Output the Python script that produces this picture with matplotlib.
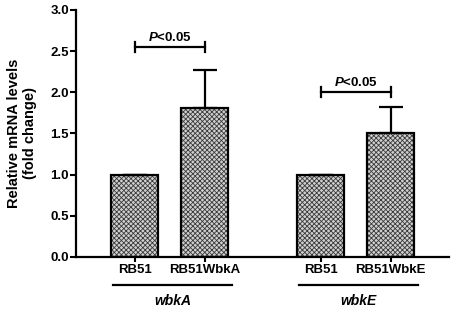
import numpy as np
import matplotlib
matplotlib.use('Agg')
import matplotlib.pyplot as plt

plt.rcParams['font.family'] = ['Liberation Sans', 'DejaVu Sans']
plt.rcParams['font.weight'] = 'bold'
plt.rcParams['hatch.linewidth'] = 0.6
plt.rcParams['mathtext.fontset'] = 'custom'
plt.rcParams['mathtext.it'] = 'Liberation Sans:italic:bold'
plt.rcParams['mathtext.rm'] = 'Liberation Sans:bold'

# data
labels = ['RB51', 'RB51WbkA', 'RB51', 'RB51WbkE']
groups = ['wbkA', 'wbkE']
values = [1.0, 1.81, 1.0, 1.51]
errors = [0.0, 0.46, 0.0, 0.31]
xpos = np.array([0, 1, 2.657, 3.657])
sig_pairs = [(0, 1, 2.55), (2, 3, 2.0)]

fig = plt.figure(figsize=(4.54, 3.10), dpi=100)
ax = fig.add_axes([0.1674, 0.171, 0.8216, 0.797])

w = 0.67
# hatch layer then outline
ax.bar(xpos, values, width=w, color='#d0d0d0', edgecolor='#3a3a3a', hatch='xxxxxxx', linewidth=0)
ax.bar(xpos, values, width=w, color='none', edgecolor='black', linewidth=1.6)
err_lo = [0] * len(errors)
ax.errorbar(xpos, values, yerr=[err_lo, errors], fmt='none', ecolor='black',
            elinewidth=1.6, capsize=8.6, capthick=1.6)

ax.set_xlim(-0.836, 4.49)
ax.set_ylim(0, 3.0)
yt = np.arange(0, 3.01, 0.5)
ax.set_yticks(yt)
ax.set_yticklabels([f'{v:.1f}' for v in yt], fontsize=9.5, fontweight='bold')
ax.set_xticks(xpos)
ax.set_xticklabels(labels, fontsize=9.5, fontweight='bold')
ax.tick_params(axis='y', direction='out', length=4, width=1.5, pad=1)
ax.tick_params(axis='x', direction='out', length=3.5, width=1.5, pad=1.5)
for s in ['top', 'right']:
    ax.spines[s].set_visible(False)
for s in ['left', 'bottom']:
    ax.spines[s].set_linewidth(1.6)

ax.set_ylabel('Relative mRNA levels\n(fold change)', fontsize=10.5, fontweight='bold',
              labelpad=10, linespacing=1.1)

# significance brackets
for i, j, h in sig_pairs:
    ax.plot([xpos[i], xpos[j]], [h, h], color='black', lw=1.6)
    for k in (i, j):
        ax.plot([xpos[k], xpos[k]], [h - 0.06, h + 0.06], color='black', lw=1.6)
    ax.text((xpos[i] + xpos[j]) / 2, h + 0.04, r'$\it{P}$' + '<0.05', ha='center', va='bottom',
            fontsize=9.5, fontweight='bold')

# group underline and labels
for g, (a, b) in zip(groups, [(0, 1), (2, 3)]):
    ax.plot([xpos[a] - 0.31, xpos[b] + 0.39], [-0.34, -0.34], color='black', lw=1.6, clip_on=False)
    ax.text((xpos[a] + xpos[b]) / 2 + 0.04, -0.53, g, ha='center', va='center', fontsize=10,
            fontweight='bold', fontstyle='italic')

fig.savefig('out.png', dpi=100)
